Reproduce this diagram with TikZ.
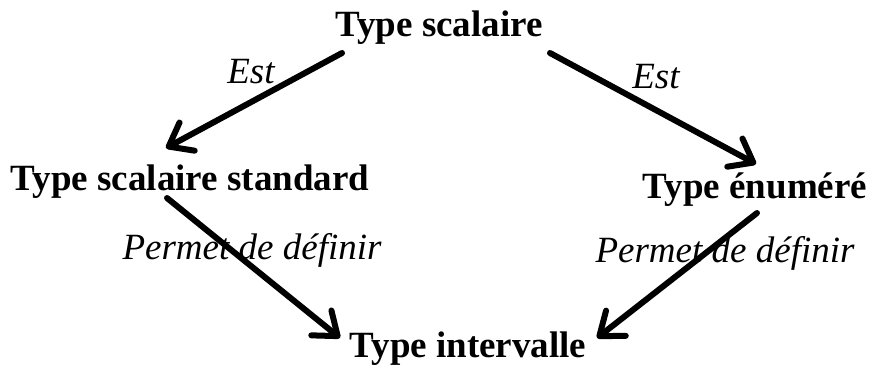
\documentclass[tikz,border=0pt]{standalone}
\usepackage{fontspec}
\setmainfont{Liberation Serif}
\usetikzlibrary{arrows.meta}
\begin{document}
\begin{tikzpicture}[x=1bp,y=-1bp,
  typebox/.style={font=\fontsize{37bp}{40bp}\selectfont\bfseries, inner sep=0pt, anchor=base},
  relabel/.style={font=\fontsize{37bp}{40bp}\selectfont\itshape, inner sep=0pt, anchor=base},
  link/.style={line width=6bp, line cap=round,
    -{Straight Barb[length=21bp,width=32bp,line width=6bp,round]}}]
  \useasboundingbox (0,0) rectangle (872,368);
  % types
  \node[typebox] (ts)  at (439,36)  {Type scalaire};
  \node[typebox] (tss) at (190,190) {Type scalaire standard};
  \node[typebox] (te)  at (755,198) {Type énuméré};
  \node[typebox] (ti)  at (468,357) {Type intervalle};
  % relation labels
  \node[relabel] (l1) at (251,83)  {Est};
  \node[relabel] (l2) at (656,88)  {Est};
  \node[relabel] (l3) at (252,259) {Permet de définir};
  \node[relabel] (l4) at (725,262) {Permet de définir};
  % connector ends
  \coordinate (ts-l)  at (342,53);
  \coordinate (ts-r)  at (550,53);
  \coordinate (tss-t) at (166,148);
  \coordinate (te-t)  at (756,164);
  \coordinate (tss-b) at (167,198);
  \coordinate (te-b)  at (757,213);
  \coordinate (ti-l)  at (340,338);
  \coordinate (ti-r)  at (597,338);
  % connectors
  \draw[link] (ts-l) -- (tss-t);
  \draw[link] (ts-r) -- (te-t);
  \draw[link] (tss-b) -- (ti-l);
  \draw[link] (te-b) -- (ti-r);
\end{tikzpicture}
\end{document}
